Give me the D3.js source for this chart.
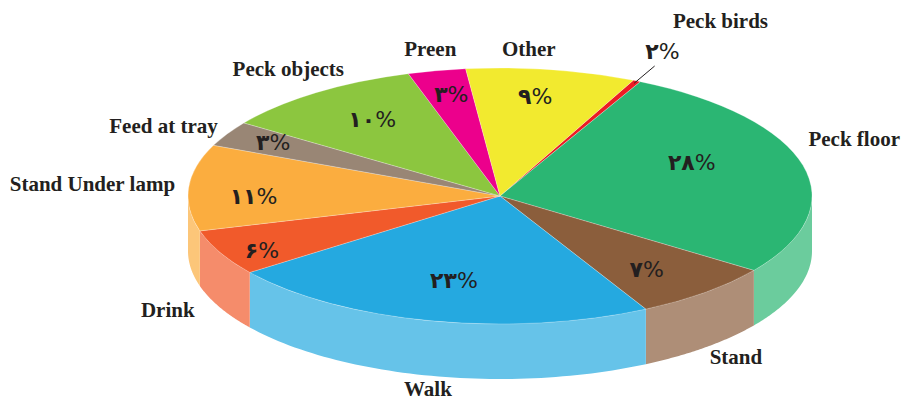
<!DOCTYPE html>
<html>
<head>
<meta charset="utf-8">
<script src="https://cdn.jsdelivr.net/npm/d3@7.9.0/dist/d3.min.js"></script>
<style>
  body { margin: 0; background: #fff; }
  .name { font-family: "Liberation Serif", "Times New Roman", serif; font-weight: bold; font-size: 21px; fill: #231f20; }
  .pct { font-family: "DejaVu Sans", "Noto Sans", sans-serif; font-size: 22px; fill: #231f20; }
  .pct .num { font-weight: bold; }
</style>
</head>
<body>
<svg width="903" height="400"></svg>
<script>
// slice order clockwise, starting at the thin red one near the top
const categories = ["Peck birds", "Peck floor", "Stand", "Walk", "Drink", "Stand Under lamp", "Feed at tray", "Peck objects", "Preen", "Other"];
const shares = [0.4, 27.5, 7.4, 22.6, 5.8, 10.9, 3.2, 10.6, 3.0, 8.8];
const pctLabels = ["۲", "۲۸", "۷", "۲۳", "۶", "۱۱", "۳", "۱۰", "۳", "۹"];
const colors = ["#ed1c24", "#2bb673", "#8b5e3c", "#25a9e0", "#f15a2b", "#fbad3f", "#998675", "#8cc63f", "#ec008c", "#f2ea2f"];

// label placement (radius factor + angle nudge in degrees)
const pctR = [1.25, 0.67, 0.74, 0.67, 0.87, 0.79, 0.84, 0.73, 0.81, 0.79];
const pctShift = [-1.4, -9.6, 1.7, 0, -2.5, -4, 1, 2, 0.6, -1.3];
const nameR = [1.54, 1.22, 1.12, 1.10, 1.16, 1.31, 1.21, 1.20, 1.17, 1.15];
const nameShift = [1.3, -7.6, -1.3, -0.6, 2.9, 0.5, -2.1, 1.7, 0.7, -4.9];

const cx = 500, cy = 196, rx = 312, ry = 128, depth = 55;
const rad = Math.PI / 180;
const svg = d3.select('svg');

const pie = d3.pie().sort(null).value(d => d)
  .startAngle(25.3 * rad).endAngle(385.3 * rad);
const arcData = pie(shares);

// project an angle (clockwise from top) on the ellipse
function proj(a, k, dy = 0) {
  return [cx + rx * k * Math.sin(a), cy - ry * k * Math.cos(a) + dy];
}

// side walls, only the front half is visible
const sides = svg.append('g');
arcData.forEach((d, i) => {
  const a0 = Math.max(d.startAngle, 90 * rad);
  const a1 = Math.min(d.endAngle, 270 * rad);
  if (a1 <= a0) return;
  const steps = d3.range(0, 1.0001, 1 / 60).map(t => a0 + (a1 - a0) * t);
  const pts = steps.map(a => proj(a, 1))
    .concat(steps.slice().reverse().map(a => proj(a, 1, depth)));
  sides.append('path')
    .attr('d', d3.line()(pts) + 'Z')
    .attr('fill', d3.interpolateRgb(colors[i], '#fff')(0.3));
});

// top face: circular arcs squashed vertically
const arcGen = d3.arc().innerRadius(0).outerRadius(rx);
const topFace = svg.append('g')
  .attr('transform', `translate(${cx},${cy}) scale(1,${ry / rx})`);
arcData.forEach((d, i) => {
  topFace.append('path')
    .attr('d', arcGen(d))
    .attr('fill', colors[i])
    .attr('stroke', '#fff')
    .attr('stroke-opacity', 0.5)
    .attr('stroke-width', 0.5)
    .attr('vector-effect', 'non-scaling-stroke');
});

// leader line for the tiny slice
const mid0 = (arcData[0].startAngle + arcData[0].endAngle) / 2;
const l0 = proj(mid0, 0.98), l1 = proj(mid0, 1.13);
svg.append('line')
  .attr('x1', l0[0]).attr('y1', l0[1]).attr('x2', l1[0]).attr('y2', l1[1])
  .attr('stroke', '#231f20').attr('stroke-width', 1);

arcData.forEach((d, i) => {
  const mid = (d.startAngle + d.endAngle) / 2;
  const pa = mid + pctShift[i] * rad;
  const p = proj(pa, pctR[i]);
  const t = svg.append('text').attr('class', 'pct')
    .attr('x', p[0]).attr('y', p[1] + 8)
    .attr('text-anchor', 'middle')
    .attr('direction', 'ltr');
  t.append('tspan').attr('class', 'num').text(pctLabels[i]);
  t.append('tspan').text('%');

  const na = mid + nameShift[i] * rad;
  const front = Math.cos(na) < 0;
  const n = proj(na, nameR[i], front ? depth : 0);
  svg.append('text').attr('class', 'name')
    .attr('x', n[0]).attr('y', n[1] + 7)
    .attr('text-anchor', 'middle')
    .text(categories[i]);
});
</script>
</body>
</html>
